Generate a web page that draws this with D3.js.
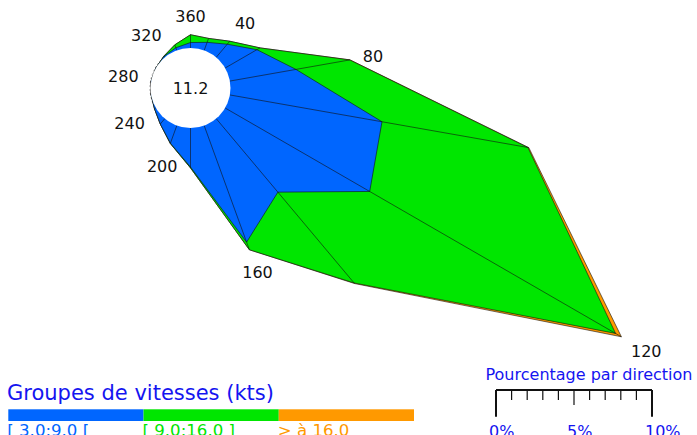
<!DOCTYPE html>
<html>
<head>
<meta charset="utf-8">
<script src="https://cdn.jsdelivr.net/npm/d3@7"></script>
<style>
  body { margin: 0; background: #fff; }
  svg { display: block; font-family: 'DejaVu Sans', sans-serif; }
</style>
</head>
<body>
<svg id="rose" width="697" height="435"></svg>
<script>
// directions (deg) and frequency (%) per speed group
var directions = [20, 40, 60, 80, 100, 120, 140, 160, 180, 200, 220, 240, 260, 280, 300, 320, 340, 360];
var group1 = [0.55, 1.1, 2.35, 4.3, 9.9, 10.7, 6.15, 7.95, 2.5, 1.2, 0.45, 0.1, 0, 0, 0, 0.08, 0.18, 0.35];
var group2 = [0.27, 0.25, 0.23, 3.5, 9.5, 18.2, 7.6, 0.52, 0.06, 0.02, 0, 0, 0, 0, 0, 0.02, 0.2, 0.5];
var group3 = [0, 0, 0, 0.02, 0.06, 0.43, 0.05, 0, 0, 0, 0, 0, 0, 0, 0, 0, 0, 0];
var groupNames = ['[ 3.0:9.0 [', '[ 9.0:16.0 ]', '> à 16.0'];
var groupColors = ['#0066ff', '#00e600', '#ff9900'];
var labelDirections = [360, 40, 80, 120, 160, 200, 240, 280, 320];
var calm = 11.2;
var scaleTicks = [0, 1, 2, 3, 4, 5, 6, 7, 8, 9, 10];
var scaleLabels = [0, 5, 10];

(function () {

  var svg = d3.select('#rose');
  var cx = 190.5, cy = 88, r0 = 40, pxPerTen = 156;

  var radius = d3.scaleLinear().domain([0, 10]).range([r0, r0 + pxPerTen]);
  var toRad = function (d) { return d * Math.PI / 180; };
  var groups = [group1, group2, group3];

  // cumulative totals, inner group first
  var layers = groups.map(function (grp, gi) {
    return directions.map(function (d, i) {
      var s = 0;
      for (var k = 0; k <= gi; k++) s += groups[k][i];
      return { dir: d, value: s };
    });
  });

  var g = svg.append('g').attr('transform', 'translate(' + cx + ',' + cy + ')');

  // calm circle outline, under the polygons
  g.append('circle')
    .attr('r', r0 + 0.5)
    .attr('fill', 'none')
    .attr('stroke', '#888')
    .attr('stroke-width', 0.8)
    .attr('stroke-dasharray', '2,2');

  var line = d3.lineRadial()
    .angle(function (d) { return toRad(d.dir); })
    .radius(function (d) { return radius(d.value); })
    .curve(d3.curveLinearClosed);

  // outer layer first so inner ones sit on top
  for (var li = layers.length - 1; li >= 0; li--) {
    g.append('path')
      .datum(layers[li])
      .attr('d', line)
      .attr('fill', groupColors[li])
      .attr('stroke', '#111')
      .attr('stroke-width', 0.6)
      .attr('stroke-linejoin', 'round');
  }

  // spokes from calm circle to outer vertex
  var total = layers[layers.length - 1];
  g.selectAll('line.spoke')
    .data(total)
    .enter()
    .append('line')
    .attr('class', 'spoke')
    .attr('x1', function (d) { return r0 * Math.sin(toRad(d.dir)); })
    .attr('y1', function (d) { return -r0 * Math.cos(toRad(d.dir)); })
    .attr('x2', function (d) { return radius(d.value) * Math.sin(toRad(d.dir)); })
    .attr('y2', function (d) { return -radius(d.value) * Math.cos(toRad(d.dir)); })
    .attr('stroke', '#111')
    .attr('stroke-width', 0.6);

  g.append('circle').attr('r', r0).attr('fill', '#fff');

  g.append('text')
    .text(calm.toFixed(1))
    .attr('text-anchor', 'middle')
    .attr('dy', '0.36em')
    .attr('font-size', 16)
    .attr('fill', '#111');

  // direction labels just outside each vertex
  var labelData = labelDirections.map(function (d) {
    return total[directions.indexOf(d)];
  });
  g.selectAll('text.dir')
    .data(labelData)
    .enter()
    .append('text')
    .attr('class', 'dir')
    .text(function (d) { return d.dir; })
    .attr('font-size', 16)
    .attr('fill', '#111')
    .attr('text-anchor', 'middle')
    .attr('dy', '0.36em')
    .each(function (d) {
      var a = toRad(d.dir);
      var w = this.getComputedTextLength();
      var support = Math.abs(Math.sin(a)) * w / 2 + Math.abs(Math.cos(a)) * 7;
      var r = radius(d.value) + 12 + support;
      d3.select(this)
        .attr('x', r * Math.sin(a))
        .attr('y', -r * Math.cos(a));
    });

  // legend of speed groups
  svg.append('text')
    .text('Groupes de vitesses (kts)')
    .attr('x', 7)
    .attr('y', 399.5)
    .attr('font-size', 21)
    .attr('fill', '#1414f0');

  var legendX = d3.scaleBand().domain(groupNames).range([8.3, 414]);
  var items = svg.selectAll('g.item')
    .data(groupNames)
    .enter()
    .append('g')
    .attr('class', 'item')
    .attr('transform', function (d) { return 'translate(' + legendX(d) + ',0)'; });
  items.append('rect')
    .attr('y', 409.3)
    .attr('width', legendX.bandwidth())
    .attr('height', 11.7)
    .attr('fill', function (d, i) { return groupColors[i]; });
  items.append('text')
    .text(function (d) { return d; })
    .attr('x', -1)
    .attr('y', 436)
    .attr('font-size', 16.6)
    .attr('fill', function (d, i) { return groupColors[i]; });

  // percentage scale bar
  var sx = d3.scaleLinear().domain([0, 10]).range([496, 496 + pxPerTen]);
  var barY = 390;

  svg.append('text')
    .text('Pourcentage par direction')
    .attr('x', 485.5)
    .attr('y', 380)
    .attr('font-size', 16)
    .attr('fill', '#1414f0');

  svg.append('line')
    .attr('x1', sx(0)).attr('x2', sx(10))
    .attr('y1', barY).attr('y2', barY)
    .attr('stroke', '#111').attr('stroke-width', 2);

  svg.selectAll('line.tick')
    .data(scaleTicks)
    .enter()
    .append('line')
    .attr('class', 'tick')
    .attr('x1', function (d) { return sx(d); })
    .attr('x2', function (d) { return sx(d); })
    .attr('y1', barY)
    .attr('y2', function (d) { return barY + (d % 10 === 0 ? 26.7 : d % 5 === 0 ? 15 : 10); })
    .attr('stroke', '#111')
    .attr('stroke-width', function (d) { return d % 10 === 0 ? 2 : 1.2; });

  svg.selectAll('text.pct')
    .data(scaleLabels)
    .enter()
    .append('text')
    .attr('class', 'pct')
    .text(function (d) { return d + '%'; })
    .attr('x', function (d) { return sx(d) - 7; })
    .attr('y', 437)
    .attr('font-size', 16)
    .attr('fill', '#1414f0');

})();
</script>
</body>
</html>
